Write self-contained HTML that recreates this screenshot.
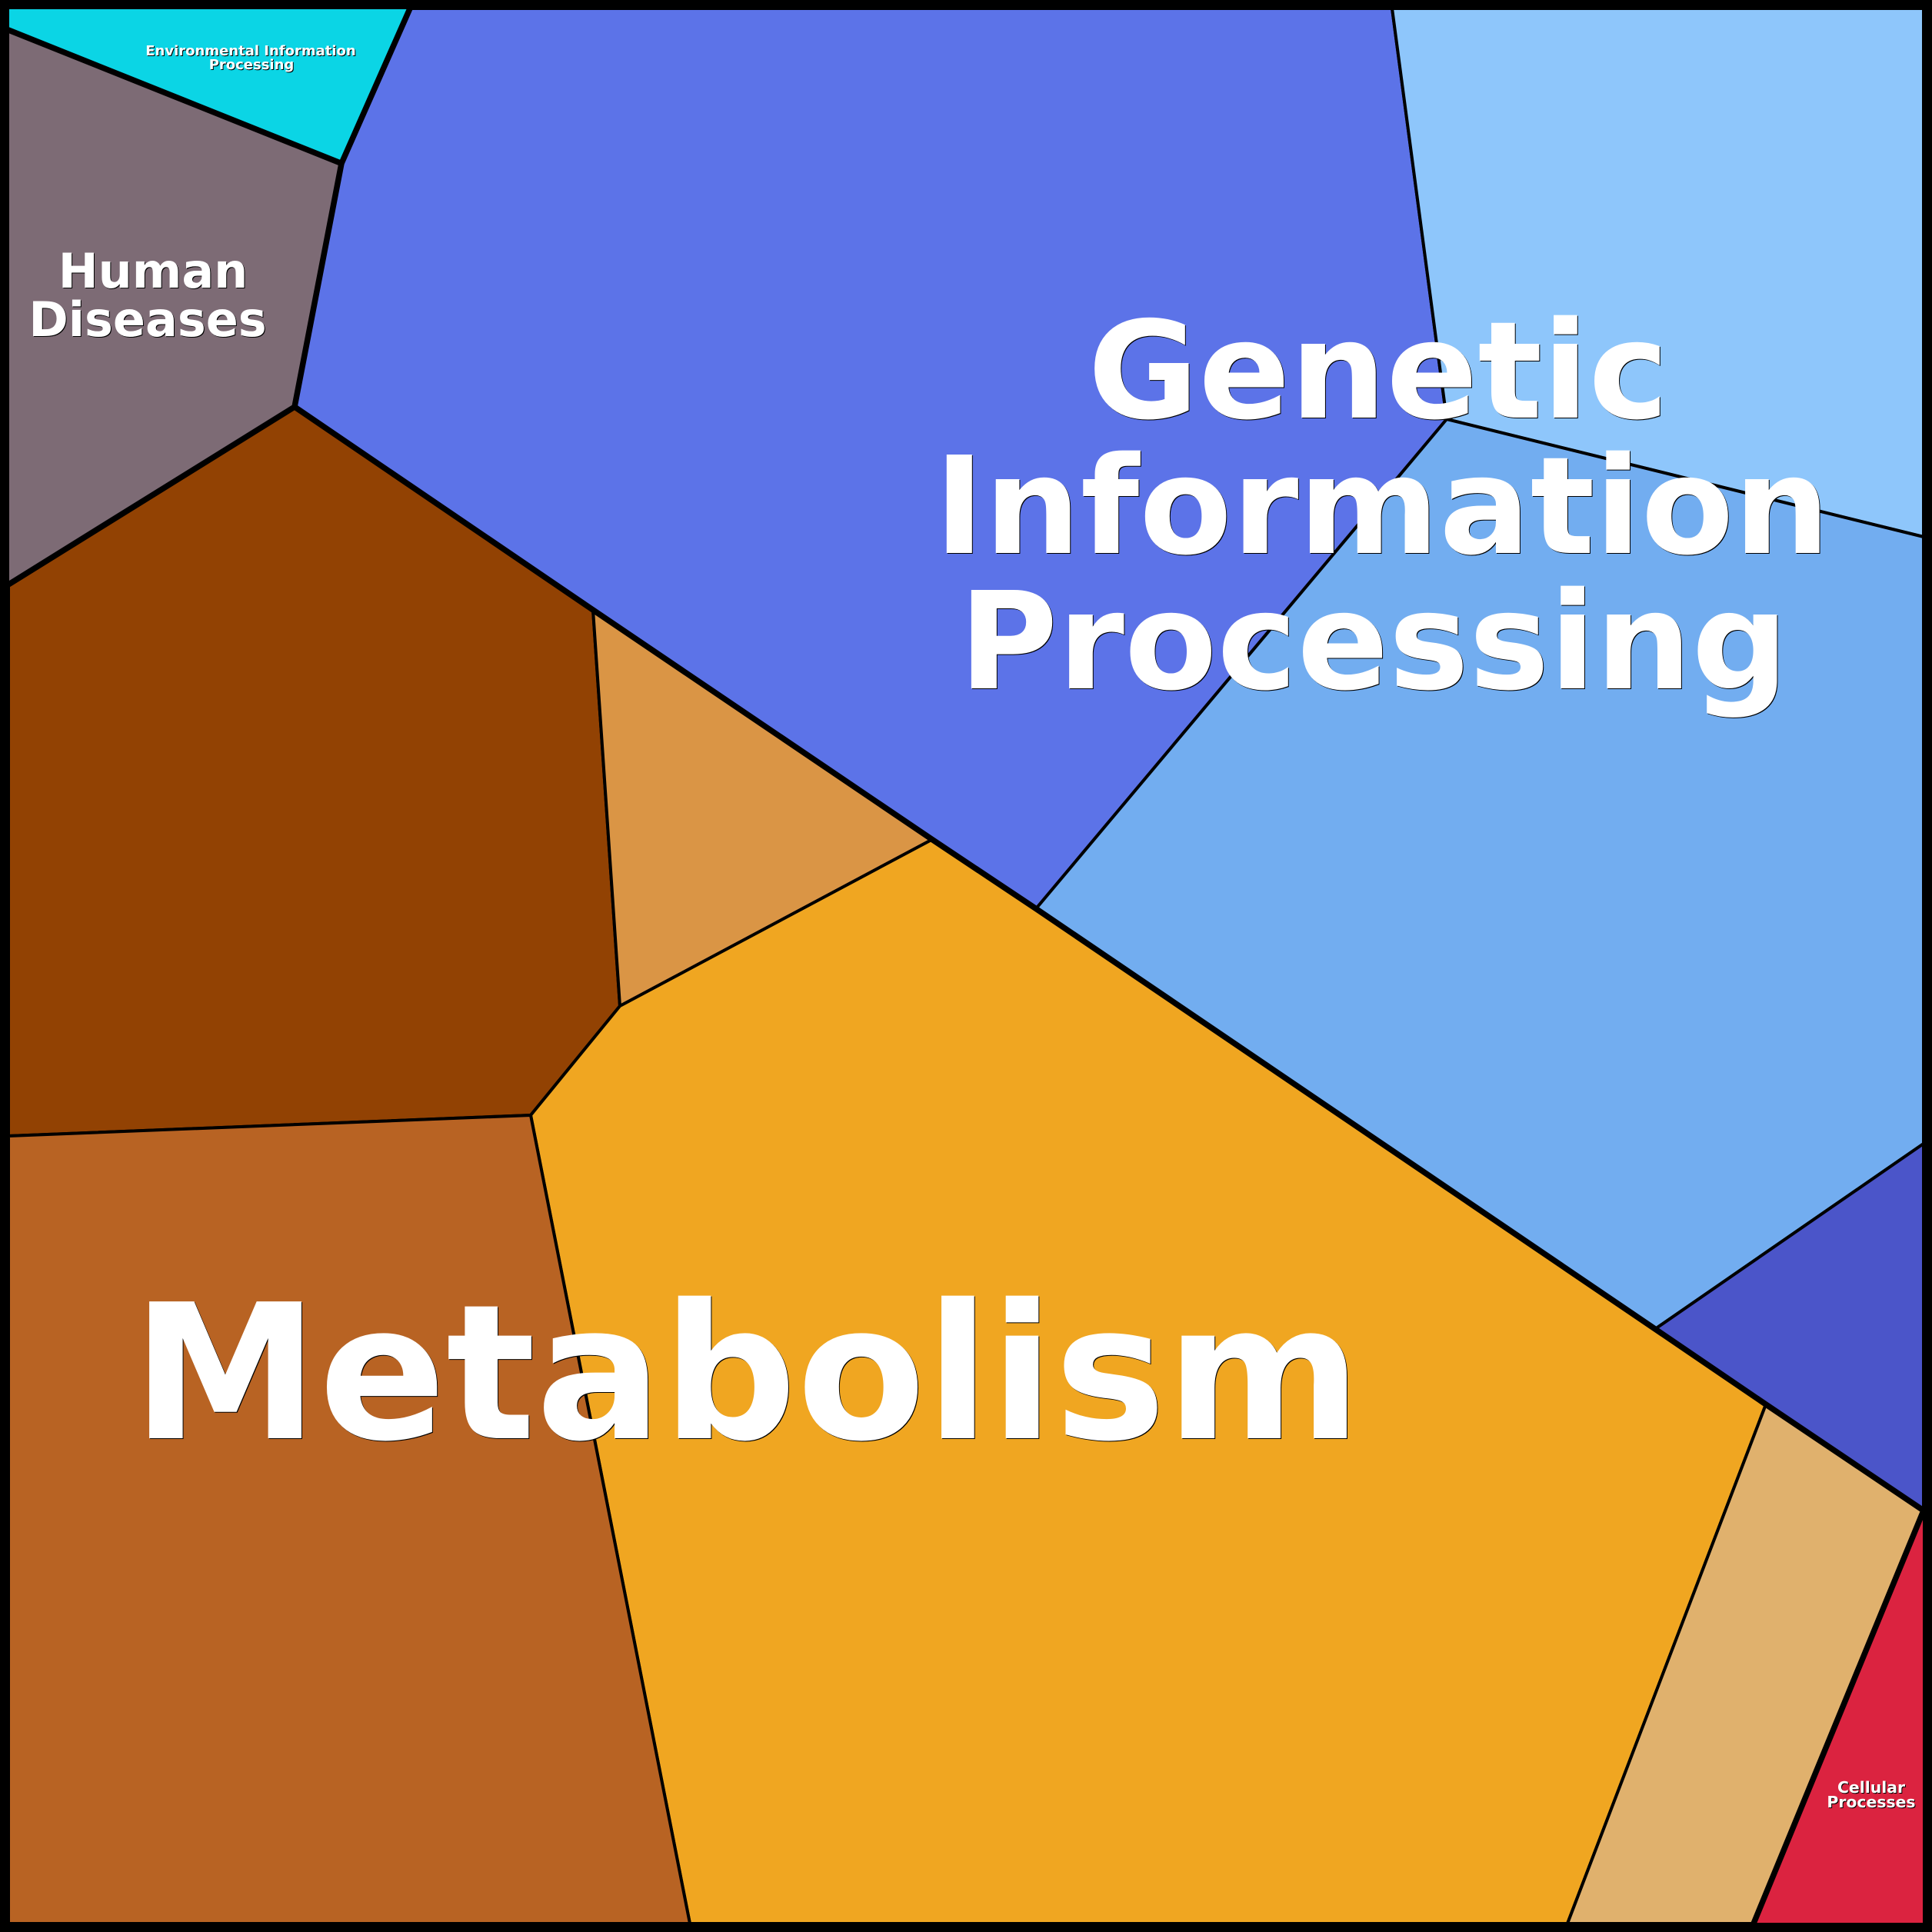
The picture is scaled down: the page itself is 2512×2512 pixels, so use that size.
<!DOCTYPE html>
<html><head><meta charset="utf-8"><style>
html,body{margin:0;padding:0;background:#fff;width:2512px;height:2512px;overflow:hidden}
svg{display:block}
text{font-family:"DejaVu Sans",sans-serif;font-weight:bold;fill:#fff;text-anchor:middle}
.s{filter:drop-shadow(1.5px 1.5px 0 #000)}
</style></head><body>
<svg width="2512" height="2512" viewBox="0 0 2512 2512" xmlns="http://www.w3.org/2000/svg">
<rect x="0" y="0" width="2512" height="2512" rx="6" fill="#000"/>
<g stroke="#000" stroke-width="4" stroke-linejoin="round">
<polygon fill="#5c73e8" points="533,11 1810,11 1881,545 1347,1181.5 1212,1091.5 771,793 383,529 444,212.5"/>
<polygon fill="#8ec6fb" points="1810,11 2501,11 2501,698 1881,545"/>
<polygon fill="#72adf0" points="1881,545 2501,698 2501,1487 2152,1728 1347,1181.5"/>
<polygon fill="#4b55c9" points="2501,1487 2501,1964 2296,1826 2152,1728"/>
<polygon fill="#924203" points="11,760 383,529 771,793 806,1308 690,1450 11,1477"/>
<polygon fill="#da9545" points="771,793 1212,1091.5 806,1308"/>
<polygon fill="#f0a621" points="1212,1091.5 1347,1181.5 2152,1728 2296,1826 2038,2501 897,2501 690,1450 806,1308"/>
<polygon fill="#b86323" points="11,1477 690,1450 897,2501 11,2501"/>
<polygon fill="#e0b16d" points="2296,1826 2501,1964 2280,2501 2038,2501"/>
</g>
<polygon fill="#0bd5e5" points="11,11 533,11 444,212.5 11,39"/>
<polygon fill="#7d6b75" points="11,39 444,212.5 383,529 11,760"/>
<polygon fill="#db2340" points="2501,1964 2501,2501 2280,2501"/>
<g fill="none" stroke="#000" stroke-width="7.5" stroke-linejoin="round" stroke-linecap="round">
<polyline points="11,39 444,212.5 533,11"/>
<polyline points="444,212.5 383,529 11,760"/>
<polyline points="383,529 771,793 1212,1091.5 1347,1181.5 2152,1728 2296,1826 2501,1964 2280,2501"/>
</g>
<rect x="6" y="6" width="2500" height="2500" fill="none" stroke="#000" stroke-width="12"/>
<g class="s">
<text x="326" y="72" font-size="18">Environmental Information</text>
<text x="327" y="90" font-size="18">Processing</text>
<text x="199" y="374" font-size="62">Human</text>
<text x="192" y="437" font-size="62">Diseases</text>
<text x="1792" y="543" font-size="175.5">Genetic</text>
<text x="1797" y="719" font-size="175.5">Information</text>
<text x="1786" y="895" font-size="175.5">Processing</text>
<text x="971" y="1870" font-size="244">Metabolism</text>
<text x="2433" y="2331" font-size="20.4">Cellular</text>
<text x="2433" y="2350" font-size="20.4">Processes</text>
</g>
</svg>
</body></html>
